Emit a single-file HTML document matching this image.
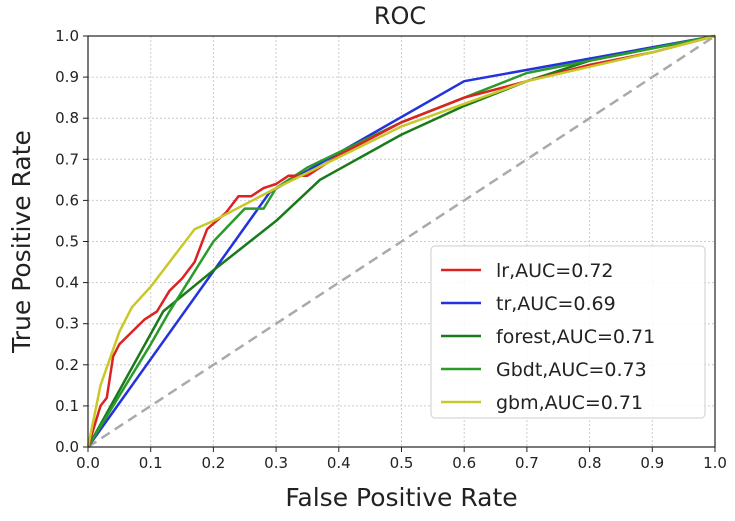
<!DOCTYPE html>
<html><head><meta charset="utf-8"><style>
body{margin:0;background:#fff;}
svg text{font-family:"DejaVu Sans","Liberation Sans",sans-serif;fill:#222;}
</style></head><body>
<svg id="chart" width="735" height="516"></svg>
<script>
const xTicks=[0,0.1,0.2,0.3,0.4,0.5,0.6,0.7,0.8,0.9,1.0];
const yTicks=[0,0.1,0.2,0.3,0.4,0.5,0.6,0.7,0.8,0.9,1.0];
const seriesNames=["lr,AUC=0.72","tr,AUC=0.69","forest,AUC=0.71","Gbdt,AUC=0.73","gbm,AUC=0.71"];
const seriesColors=["#dd2222","#2233dd","#1a7a1a","#2a9a2a","#c8c82a"];
const lrFpr=[0,0.02,0.03,0.04,0.05,0.07,0.09,0.11,0.13,0.15,0.17,0.19,0.22,0.24,0.26,0.28,0.3,0.32,0.35,0.4,0.5,0.6,0.7,0.8,0.9,1];
const lrTpr=[0,0.1,0.12,0.22,0.25,0.28,0.31,0.33,0.38,0.41,0.45,0.53,0.57,0.61,0.61,0.63,0.64,0.66,0.66,0.71,0.79,0.85,0.89,0.93,0.96,1];
const trFpr=[0,0.29,0.6,1];
const trTpr=[0,0.62,0.89,1];
const forestFpr=[0,0.12,0.2,0.3,0.37,0.5,0.6,0.7,0.8,1];
const forestTpr=[0,0.33,0.43,0.55,0.65,0.76,0.83,0.89,0.94,1];
const gbdtFpr=[0,0.1,0.13,0.2,0.25,0.28,0.3,0.35,0.5,0.6,0.7,1];
const gbdtTpr=[0,0.25,0.33,0.5,0.58,0.58,0.63,0.68,0.79,0.85,0.91,1];
const gbmFpr=[0,0.02,0.05,0.07,0.1,0.17,0.2,0.3,0.5,0.7,0.9,1];
const gbmTpr=[0,0.15,0.28,0.34,0.39,0.53,0.55,0.63,0.78,0.89,0.96,1];

const svg=document.getElementById('chart');
const NS="http://www.w3.org/2000/svg";
const L=88,R=715,T=36,B=447;
const sx=v=>L+v*(R-L), sy=v=>B-v*(B-T);
function mk(tag,attrs,parent){const e=document.createElementNS(NS,tag);for(const k in attrs)e.setAttribute(k,attrs[k]);(parent||svg).appendChild(e);return e;}

const title=mk('text',{x:400,y:24,'text-anchor':'middle','font-size':24});
title.textContent='ROC';



xTicks.forEach(v=>{
  const g=mk('line',{x1:sx(v),x2:sx(v),y1:T,y2:B,stroke:'#ccc','stroke-dasharray':'2,2','stroke-width':1});
  
  
  const t=mk('line',{x1:sx(v),x2:sx(v),y1:B,y2:B+5,stroke:'#222'});
  
  
  const l=mk('text',{x:sx(v),y:B+21,'text-anchor':'middle','font-size':15});
  l.textContent=v.toFixed(1);
  
  
});
yTicks.forEach(v=>{
  const g=mk('line',{x1:L,x2:R,y1:sy(v),y2:sy(v),stroke:'#ccc','stroke-dasharray':'2,2','stroke-width':1});
  
  
  const t=mk('line',{x1:L-5,x2:L,y1:sy(v),y2:sy(v),stroke:'#222'});
  
  
  const l=mk('text',{x:L-9,y:sy(v)+5,'text-anchor':'end','font-size':15});
  l.textContent=v.toFixed(1);
  
  
});

const diag=mk('line',{x1:sx(0),y1:sy(0),x2:sx(1),y2:sy(1),stroke:'#aaa','stroke-width':2.5,'stroke-dasharray':'10,6'});



const allX=[lrFpr,trFpr,forestFpr,gbdtFpr,gbmFpr];
const allY=[lrTpr,trTpr,forestTpr,gbdtTpr,gbmTpr];
const drawOrder=[1,2,3,0,4];
drawOrder.forEach(i=>{
  const pts=allX[i].map((x,j)=>sx(x).toFixed(1)+','+sy(allY[i][j]).toFixed(1)).join(' ');
  const p=mk('polyline',{points:pts,fill:'none',stroke:seriesColors[i],'stroke-width':2.5,'stroke-linejoin':'round'});
  
  
});

const frame=mk('rect',{x:L,y:T,width:R-L,height:B-T,fill:'none',stroke:'#222','stroke-width':1.2});



const leg=mk('g',{});


mk('rect',{x:431,y:246,width:274,height:172,rx:4,fill:'#fff','fill-opacity':0.85,stroke:'#ccc'},leg);
seriesNames.forEach((n,i)=>{
  const y=270+i*33;
  const ln=mk('line',{x1:441,x2:481,y1:y,y2:y,stroke:seriesColors[i],'stroke-width':2.5},leg);
  
  
  const t=mk('text',{x:496,y:y+7,'font-size':19},leg);
  t.textContent=n;
  
  
});

const xl=mk('text',{x:sx(0.5),y:506,'text-anchor':'middle','font-size':25});
xl.textContent='False Positive Rate';


const yl=mk('text',{x:0,y:0,'text-anchor':'middle','font-size':25,transform:'translate(30,'+sy(0.5)+') rotate(-90)'});
yl.textContent='True Positive Rate';


</script>
</body></html>
